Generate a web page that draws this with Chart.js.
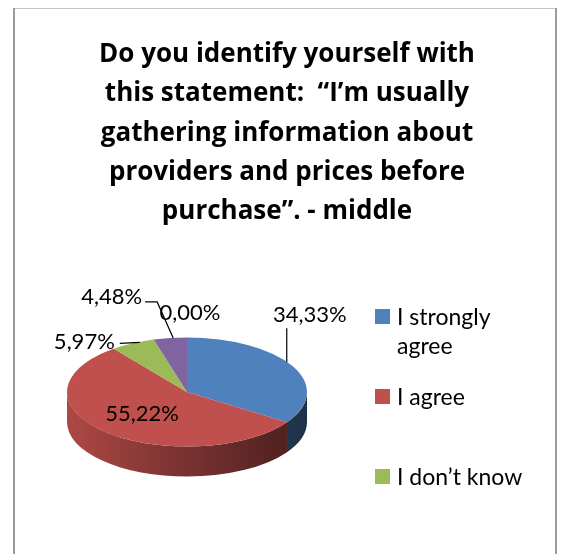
<!DOCTYPE html>
<html>
<head>
<meta charset="utf-8">
<script src="https://cdn.jsdelivr.net/npm/chart.js@4.4.0/dist/chart.umd.min.js"></script>
<style>
  html, body { margin: 0; padding: 0; background: #fff; }
  #wrap { position: relative; width: 561px; height: 554px; }
</style>
</head>
<body>
<div id="wrap"><canvas id="pieChart"></canvas></div>
<script>
// survey answers (count of respondents)
var titleLines = [
  'Do you identify yourself with',
  'this statement:  \u201cI\u2019m usually',
  'gathering information about',
  'providers and prices before',
  'purchase\u201d. - middle'
];
var answers = ['I strongly agree', 'I agree', 'I don\u2019t know', 'I disagree', 'I strongly disagree'];
var responses = [23, 37, 4, 3, 0];
var sliceColors = ['#4F81BD', '#C0504D', '#9BBB59', '#8064A2', '#4BACC6'];

// 3d look of the pie
var pieCenter = { x: 187, y: 392 };
var tilt = 0.455;
var depth = 30;

function shade(hex, f) {
  var n = parseInt(hex.slice(1), 16);
  var r = Math.round(((n >> 16) & 255) * f);
  var g = Math.round(((n >> 8) & 255) * f);
  var b = Math.round((n & 255) * f);
  return 'rgb(' + r + ',' + g + ',' + b + ')';
}

function percentText(v) {
  var total = responses.reduce(function (a, b) { return a + b; }, 0);
  return (v / total * 100).toFixed(2).replace('.', ',') + '%';
}

// frame around the chart
var frame = {
  id: 'frame',
  beforeDraw: function (chart) {
    var ctx = chart.ctx;
    ctx.save();
    ctx.strokeStyle = '#c4c4c4';
    ctx.lineWidth = 1;
    ctx.beginPath();
    ctx.moveTo(14, 8.5);
    ctx.lineTo(556, 8.5);
    ctx.stroke();
    ctx.strokeStyle = '#9a9a9a';
    ctx.lineWidth = 2;
    ctx.beginPath();
    ctx.moveTo(14, 8);
    ctx.lineTo(14, 560);
    ctx.moveTo(556, 8);
    ctx.lineTo(556, 560);
    ctx.stroke();
    ctx.restore();
  }
};

// side walls + flattening of the top face
var pie3d = {
  id: 'pie3d',
  beforeDatasetsDraw: function (chart) {
    var ctx = chart.ctx;
    var arcs = chart.getDatasetMeta(0).data;
    var r = arcs[0].outerRadius;
    arcs.forEach(function (arc, i) {
      var a1 = Math.max(arc.startAngle, 0);
      var a2 = Math.min(arc.endAngle, Math.PI);
      if (a2 <= a1) return;
      var grad = ctx.createLinearGradient(pieCenter.x - r, 0, pieCenter.x + r, 0);
      grad.addColorStop(0, shade(sliceColors[i], 0.9));
      grad.addColorStop(0.5, shade(sliceColors[i], 0.62));
      grad.addColorStop(1, shade(sliceColors[i], 0.38));
      ctx.beginPath();
      ctx.ellipse(pieCenter.x, pieCenter.y, r, r * tilt, 0, a1, a2);
      ctx.ellipse(pieCenter.x, pieCenter.y + depth, r, r * tilt, 0, a2, a1, true);
      ctx.closePath();
      ctx.fillStyle = grad;
      ctx.fill();
    });
    ctx.save();
    ctx.translate(pieCenter.x, pieCenter.y);
    ctx.scale(1, tilt);
    ctx.translate(-arcs[0].x, -arcs[0].y);
  },
  afterDatasetsDraw: function (chart) {
    chart.ctx.restore();
  }
};

// percentage labels with leader lines
var labelSpots = [
  { text: [17, -51], align: 'center', leader: [[-6, -4], [-6, -38]] },
  { inside: 0.55, align: 'center' },
  { text: [-18, -1], align: 'right', leader: [[7, -1], [-13, 0]] },
  { text: [-28, -41], align: 'right', leader: [[3, 0], [-13, -36], [-25, -36]] },
  { text: [3, -24], align: 'center' }
];

var pieLabels = {
  id: 'pieLabels',
  afterDatasetsDraw: function (chart) {
    var ctx = chart.ctx;
    var arcs = chart.getDatasetMeta(0).data;
    ctx.save();
    ctx.font = '22px Lato';
    ctx.fillStyle = '#000';
    ctx.strokeStyle = '#000';
    ctx.lineWidth = 1.2;
    ctx.textBaseline = 'middle';
    arcs.forEach(function (arc, i) {
      var spot = labelSpots[i];
      var mid = (arc.startAngle + arc.endAngle) / 2;
      var r = arc.outerRadius * (spot.inside || 1);
      var ex = pieCenter.x + r * Math.cos(mid);
      var ey = pieCenter.y + r * tilt * Math.sin(mid);
      var tx = ex, ty = ey;
      if (spot.text) { tx += spot.text[0]; ty += spot.text[1]; }
      if (spot.leader) {
        ctx.beginPath();
        spot.leader.forEach(function (p, j) {
          if (j === 0) ctx.moveTo(ex + p[0], ey + p[1]);
          else ctx.lineTo(ex + p[0], ey + p[1]);
        });
        ctx.stroke();
      }
      ctx.textAlign = spot.align;
      ctx.fillText(percentText(responses[i]), tx, ty);
    });
    ctx.restore();
  }
};

// legend on the right, long names wrap onto a second line,
// entries that run past the bottom are left out
var sideLegend = {
  id: 'sideLegend',
  afterDraw: function (chart) {
    var ctx = chart.ctx;
    var colors = chart.data.datasets[0].backgroundColor;
    ctx.save();
    ctx.font = '23px Lato';
    ctx.textBaseline = 'alphabetic';
    ctx.textAlign = 'left';
    chart.data.labels.forEach(function (label, i) {
      var top = 309 + i * 80;
      if (top + 30 > chart.height) return;
      ctx.fillStyle = colors[i];
      ctx.fillRect(375, top, 15, 15);
      var words = label.split(' ');
      var lines = [], line = '';
      words.forEach(function (w) {
        var test = line ? line + ' ' + w : w;
        if (line && ctx.measureText(test).width > 145) {
          lines.push(line);
          line = w;
        } else {
          line = test;
        }
      });
      lines.push(line);
      ctx.fillStyle = '#000';
      lines.forEach(function (t, j) {
        ctx.fillText(t, 397, top + 16 + j * 29);
      });
    });
    ctx.restore();
  }
};

var ctx1 = document.getElementById('pieChart').getContext('2d');
var pieChart = new Chart(ctx1, {
  type: 'pie',
  data: {
    labels: answers,
    datasets: [{
      data: responses,
      backgroundColor: sliceColors,
      borderWidth: 0,
      radius: 120,
      clip: false
    }]
  },
  options: {
    responsive: true,
    maintainAspectRatio: false,
    animation: false,
    events: [],
    layout: { padding: { top: 8, left: 20, right: 7, bottom: 0 } },
    plugins: {
      legend: { display: false },
      tooltip: { enabled: false },
      title: {
        display: true,
        text: titleLines,
        color: '#000',
        font: { family: '"Open Sans"', size: 26, weight: 'bold', lineHeight: 1.51 },
        padding: { top: 27, bottom: 10 }
      }
    }
  },
  plugins: [frame, pie3d, pieLabels, sideLegend]
});
</script>
</body>
</html>
